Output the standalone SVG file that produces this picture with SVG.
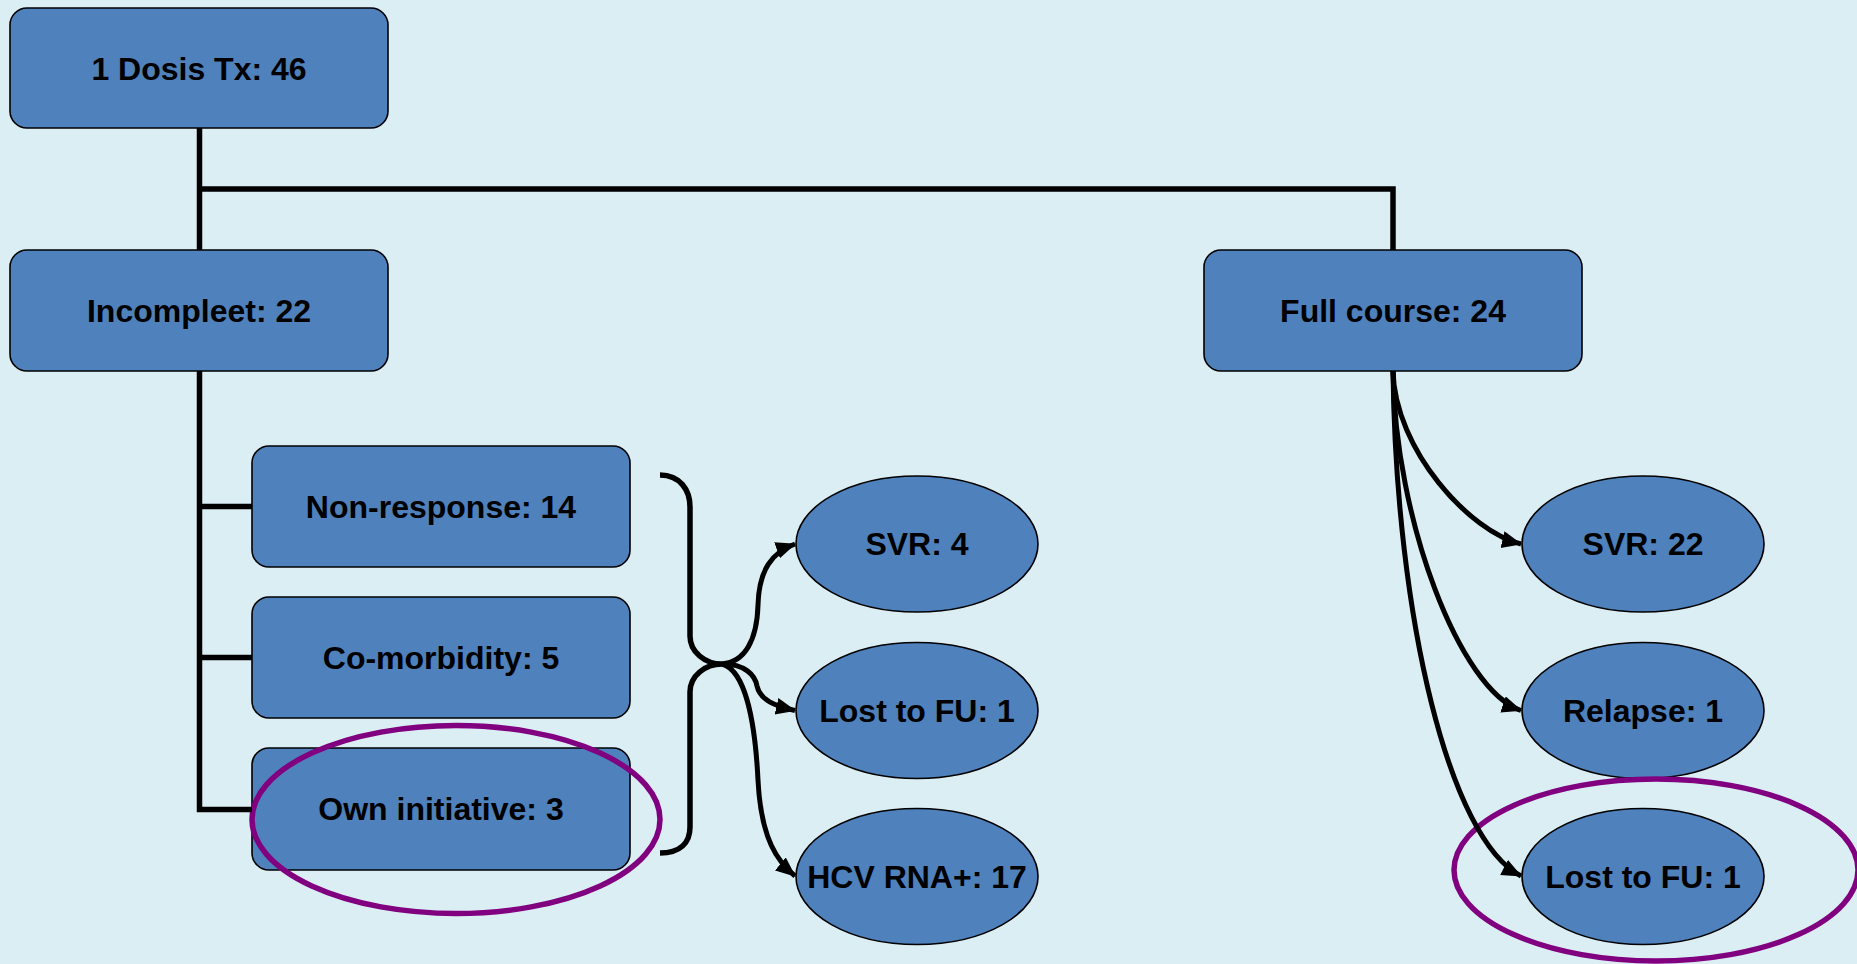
<svg xmlns="http://www.w3.org/2000/svg" width="1857" height="964" viewBox="0 0 1857 964">
<defs>
<style>
.box{fill:#4F81BD;stroke:#000;stroke-width:1.6}
.lbl{font-family:"Liberation Sans",Arial,sans-serif;font-weight:bold;font-size:32px;fill:#000;text-anchor:middle}
.ln{fill:none;stroke:#000;stroke-width:5.5;stroke-linejoin:miter}
.arr{fill:none;stroke:#000;stroke-width:5;marker-end:url(#ah)}
.hl{fill:none;stroke:#800080;stroke-width:5.5}
</style>
<marker id="ah" markerUnits="userSpaceOnUse" markerWidth="22" markerHeight="18" refX="19" refY="8.5" orient="auto">
<path d="M0,0 L20,8.5 L0,17 z" fill="#000"/>
</marker>
</defs>
<rect width="1857" height="964" fill="#DBEEF4"/>

<g id="n-top"><rect class="box" x="10" y="8" width="378" height="120" rx="17"/><text class="lbl" x="199" y="80">1 Dosis Tx: 46</text></g>
<g id="n-incompleet"><rect class="box" x="10" y="250" width="378" height="121" rx="17"/><text class="lbl" x="199" y="322">Incompleet: 22</text></g>
<g id="n-full"><rect class="box" x="1204" y="250" width="378" height="121" rx="17"/><text class="lbl" x="1393" y="322">Full course: 24</text></g>
<g id="n-nonresp"><rect class="box" x="252" y="446" width="378" height="121" rx="17"/><text class="lbl" x="441" y="518">Non-response: 14</text></g>
<g id="n-comorb"><rect class="box" x="252" y="597" width="378" height="121" rx="17"/><text class="lbl" x="441" y="669">Co-morbidity: 5</text></g>
<g id="n-own"><rect class="box" x="252" y="748" width="378" height="122" rx="17"/><text class="lbl" x="441" y="820">Own initiative: 3</text></g>

<g id="n-svr4"><ellipse class="box" cx="917" cy="544" rx="121" ry="68"/><text class="lbl" x="917" y="555">SVR: 4</text></g>
<g id="n-lost-l"><ellipse class="box" cx="917" cy="710.5" rx="121" ry="68"/><text class="lbl" x="917" y="722">Lost to FU: 1</text></g>
<g id="n-hcv"><ellipse class="box" cx="917" cy="876.5" rx="121" ry="68"/><text class="lbl" x="917" y="888">HCV RNA+: 17</text></g>

<g id="n-svr22"><ellipse class="box" cx="1643" cy="544" rx="121" ry="68"/><text class="lbl" x="1643" y="555">SVR: 22</text></g>
<g id="n-relapse"><ellipse class="box" cx="1643" cy="710.5" rx="121" ry="68"/><text class="lbl" x="1643" y="722">Relapse: 1</text></g>
<g id="n-lost-r"><ellipse class="box" cx="1643" cy="876.5" rx="121" ry="68"/><text class="lbl" x="1643" y="888">Lost to FU: 1</text></g>

<g id="highlights">
<ellipse class="hl" cx="456" cy="819.5" rx="204" ry="94"/>
<ellipse class="hl" cx="1656" cy="870" rx="202" ry="91"/>
</g>

<g id="connectors">
<line class="ln" x1="199.5" y1="128" x2="199.5" y2="250"/>
<polyline class="ln" points="199.5,189 1393,189 1393,250"/>
<polyline class="ln" points="199.5,371 199.5,809.5 252,809.5"/>
<line class="ln" x1="199.5" y1="506.5" x2="252" y2="506.5"/>
<line class="ln" x1="199.5" y1="657.5" x2="252" y2="657.5"/>
<path class="ln" d="M660,475 C680,475 690,490 690,507 L690,636 C690,652 705,664 722,664 C705,664 690,676 690,692 L690,827 C690,843 680,853 660,853"/>
<path class="arr" d="M722,664 C745,662 757,640 758,605 C759,570 772,552 795,544"/>
<path class="arr" d="M722,664 C745,664 755,675 757,686 C760,700 775,706 795,710.5"/>
<path class="arr" d="M722,664 C745,670 755,720 758,780 C761,840 778,862 795,876"/>
<path class="arr" d="M1393,371 C1395,450 1470,532 1521,544"/>
<path class="arr" d="M1393,371 C1395,520 1460,690 1521,710.5"/>
<path class="arr" d="M1393,371 C1396,620 1450,840 1521,876"/>
</g>
</svg>
